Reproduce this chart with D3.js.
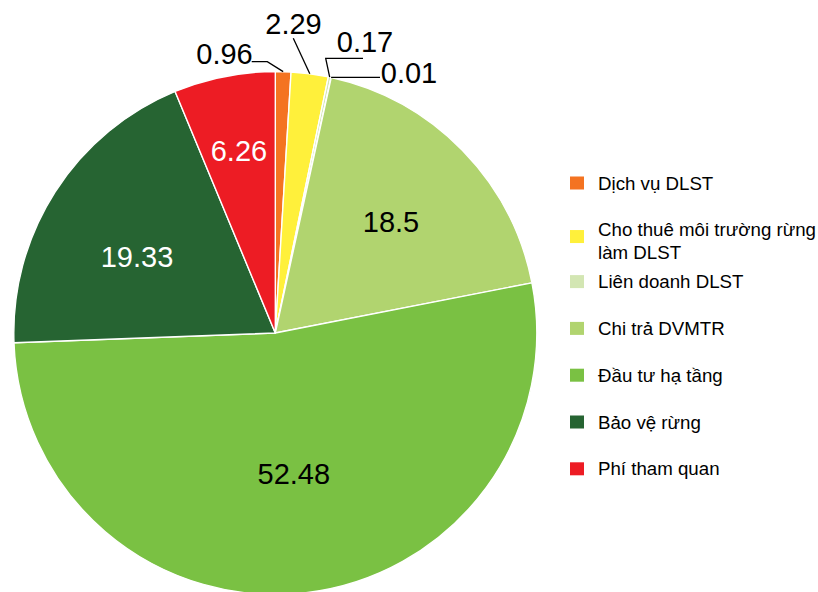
<!DOCTYPE html>
<html>
<head>
<meta charset="utf-8">
<script src="https://cdn.jsdelivr.net/npm/d3@7/dist/d3.min.js"></script>
<style>
  html, body { margin: 0; padding: 0; background: #fff; }
  svg { display: block; font-family: "Liberation Sans", Arial, sans-serif; }
</style>
</head>
<body>
<svg id="chart" width="818" height="592"></svg>
<script>
// Slice data, clockwise from 12 o'clock
const categories = [
  "Dịch vụ DLST",
  "Cho thuê môi trường rừng làm DLST",
  "Liên doanh DLST",
  "",
  "Chi trả DVMTR",
  "Đầu tư hạ tầng",
  "Bảo vệ rừng",
  "Phí tham quan"
];
const values = [0.96, 2.29, 0.17, 0.01, 18.5, 52.48, 19.33, 6.26];
const valueLabels = ["0.96", "2.29", "0.17", "0.01", "18.5", "52.48", "19.33", "6.26"];
const colors = ["#F47321", "#FFF03B", "#D3E6B3", "#D3E6B3", "#B1D46F", "#7AC143", "#266432", "#ED1C24"];
// Legend wraps the long entry onto two lines
const legendLines = [
  ["Dịch vụ DLST"],
  ["Cho thuê môi trường rừng", "làm DLST"],
  ["Liên doanh DLST"],
  null,
  ["Chi trả DVMTR"],
  ["Đầu tư hạ tầng"],
  ["Bảo vệ rừng"],
  ["Phí tham quan"]
];

// Layout
const cx = 275.3, cy = 333, R = 261.5;
const labelFont = 29;
// inside labels: radius fraction and small angular nudge (degrees)
const insideLayout = {
  4: { k: 0.614, da: 0.45, fill: "#000" },
  5: { k: 0.543, da: -0.9, fill: "#000" },
  6: { k: 0.604, da: -3.8, fill: "#fff" },
  7: { k: 0.712, da: 0, fill: "#fff" }
};
// outside labels: text centre and leader path points, relative to pie centre
const outsideLayout = {
  0: { text: [-50.8, -279], path: [[-8, -271.3], [-23.6, -271.3]] },
  1: { text: [18.2, -309], path: [[18, -294.7]] },
  2: { text: [89.7, -291.3], path: [[50.4, -274.7], [87.7, -274.7]] },
  3: { text: [133.7, -260.5], path: [[56.4, -255.7], [104.7, -255.7]] }
};

const svg = d3.select("#chart");
const g = svg.append("g").attr("transform", `translate(${cx},${cy})`);

const data = categories.map((c, i) => ({ name: c, value: values[i], label: valueLabels[i], color: colors[i], i }));

const pie = d3.pie().value(d => d.value).sort(null).startAngle(0).endAngle(2 * Math.PI);
const arcs = pie(data);
const arc = d3.arc().innerRadius(0).outerRadius(R);

g.selectAll("path.slice")
  .data(arcs)
  .join("path")
  .attr("class", "slice")
  .attr("d", arc)
  .attr("fill", d => d.data.color)
  .attr("stroke", "#fff")
  .attr("stroke-width", 1.4)
  .attr("stroke-linejoin", "round");

// point on the circle at a given angle (radians, clockwise from top)
const polar = (a, r) => [Math.sin(a) * r, -Math.cos(a) * r];

// Inside value labels
arcs.filter(d => insideLayout[d.data.i]).forEach(d => {
  const L = insideLayout[d.data.i];
  const mid = (d.startAngle + d.endAngle) / 2 + L.da * Math.PI / 180;
  const [x, y] = polar(mid, R * L.k);
  g.append("text")
    .attr("x", x)
    .attr("y", y + labelFont * 0.358)
    .attr("text-anchor", "middle")
    .attr("font-size", labelFont)
    .attr("fill", L.fill)
    .text(d.data.label);
});

// Outside value labels with leader lines
arcs.filter(d => outsideLayout[d.data.i]).forEach(d => {
  const L = outsideLayout[d.data.i];
  const mid = (d.startAngle + d.endAngle) / 2;
  const start = polar(mid, R);
  g.append("path")
    .attr("d", d3.line()([start, ...L.path]))
    .attr("fill", "none")
    .attr("stroke", "#000")
    .attr("stroke-width", 1.3);
  g.append("text")
    .attr("x", L.text[0])
    .attr("y", L.text[1] + labelFont * 0.358)
    .attr("text-anchor", "middle")
    .attr("font-size", labelFont)
    .attr("fill", "#000")
    .text(d.data.label);
});

// Legend: one slot per entry, wrapped entries push later rows down a little
const legendX = 570, legendTextX = 598, legendTop = 183, legendStep = 46.8,
      legendWrapExtra = 5, legendLH = 22.5, legendFont = 18.7;
const legend = svg.append("g");
let extraLines = 0;
data.filter(d => legendLines[d.i]).forEach((d, row) => {
  const lines = legendLines[d.i];
  const y0 = legendTop + row * legendStep + extraLines * legendWrapExtra;
  const sqC = y0 + (lines.length - 1) * legendLH * 0.3;
  legend.append("rect")
    .attr("x", legendX)
    .attr("y", sqC - 6.5)
    .attr("width", 14)
    .attr("height", 13)
    .attr("fill", d.color);
  lines.forEach((t, li) => {
    legend.append("text")
      .attr("x", legendTextX)
      .attr("y", y0 + li * legendLH + legendFont * 0.358)
      .attr("font-size", legendFont)
      .attr("fill", "#000")
      .text(t);
  });
  extraLines += lines.length - 1;
});
</script>
</body>
</html>
